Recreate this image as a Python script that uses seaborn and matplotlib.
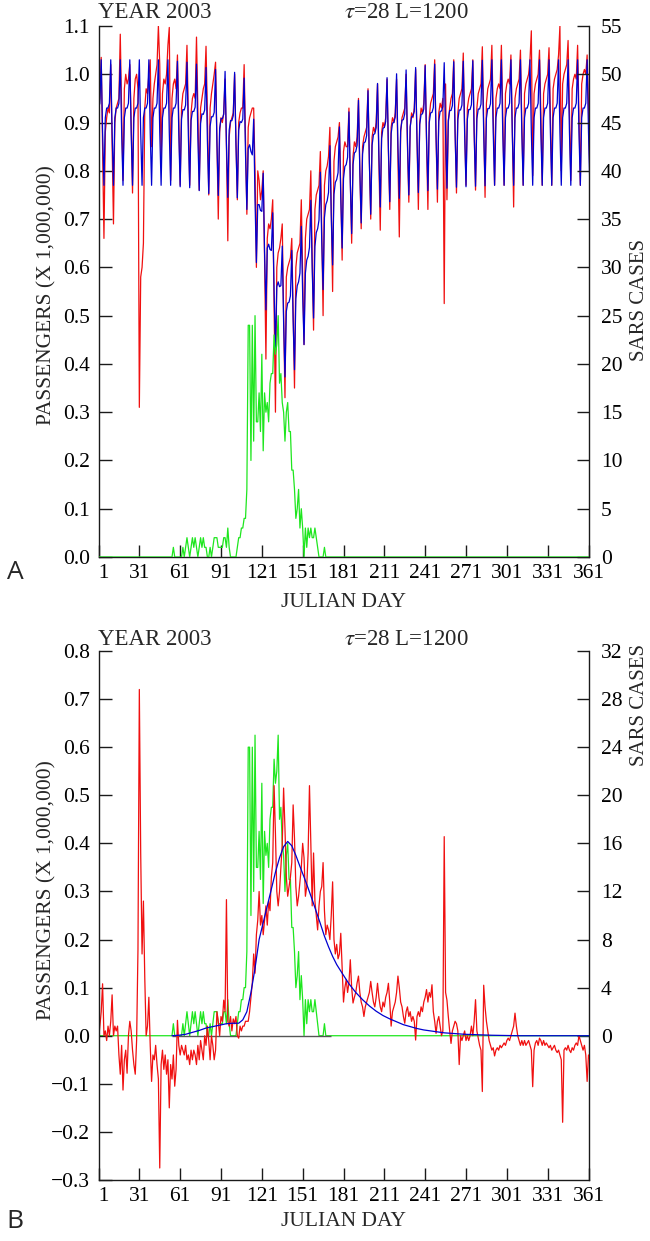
import matplotlib
matplotlib.use("Agg")
import matplotlib.pyplot as plt
import seaborn as sns
import pandas as pd

# ---------------- data ----------------
days = list(range(1, 366))
x_ticks = [1, 31, 61, 91, 121, 151, 181, 211, 241, 271, 301, 331, 361]
a_left_ticks = [0.0, 0.1, 0.2, 0.3, 0.4, 0.5, 0.6, 0.7, 0.8, 0.9, 1.0, 1.1]
a_right_ticks = [0, 5, 10, 15, 20, 25, 30, 35, 40, 45, 50, 55]
b_left_ticks = [-0.3, -0.2, -0.1, 0.0, 0.1, 0.2, 0.3, 0.4, 0.5, 0.6, 0.7, 0.8]
b_right_ticks = [0, 4, 8, 12, 16, 20, 24, 28, 32]

# Panel A, model passengers (blue), one row per week starting on the peak day
a_blue_weeks = [
    [0.93, 0.94],
    [1.03, 0.88, 0.77, 0.91, 0.93, 0.93, 0.94],
    [1.03, 0.88, 0.77, 0.91, 0.93, 0.93, 0.94],
    [1.03, 0.88, 0.77, 0.91, 0.93, 0.93, 0.94],
    [1.03, 0.88, 0.77, 0.91, 0.93, 0.93, 0.94],
    [1.03, 0.88, 0.77, 0.91, 0.93, 0.93, 0.94],
    [1.03, 0.88, 0.77, 0.91, 0.93, 0.93, 0.94],
    [1.03, 0.88, 0.77, 0.91, 0.93, 0.93, 0.94],
    [1.03, 0.88, 0.77, 0.91, 0.93, 0.93, 0.94],
    [1.027, 0.877, 0.767, 0.907, 0.927, 0.926, 0.936],
    [1.025, 0.875, 0.765, 0.904, 0.923, 0.923, 0.932],
    [1.021, 0.870, 0.759, 0.898, 0.918, 0.917, 0.926],
    [1.014, 0.863, 0.753, 0.892, 0.912, 0.912, 0.921],
    [1.010, 0.859, 0.749, 0.888, 0.908, 0.908, 0.917],
    [1.006, 0.855, 0.745, 0.884, 0.904, 0.904, 0.914],
    [1.004, 0.854, 0.744, 0.884, 0.902, 0.900, 0.907],
    [0.992, 0.836, 0.720, 0.847, 0.854, 0.840, 0.833],
    [0.907, 0.740, 0.610, 0.730, 0.730, 0.718, 0.716],
    [0.795, 0.633, 0.512, 0.640, 0.648, 0.637, 0.635],
    [0.713, 0.552, 0.430, 0.560, 0.570, 0.560, 0.562],
    [0.644, 0.487, 0.373, 0.509, 0.526, 0.528, 0.541],
    [0.635, 0.491, 0.388, 0.535, 0.562, 0.570, 0.588],
    [0.685, 0.543, 0.440, 0.588, 0.615, 0.623, 0.641],
    [0.739, 0.597, 0.495, 0.643, 0.672, 0.680, 0.698],
    [0.797, 0.656, 0.554, 0.703, 0.730, 0.738, 0.755],
    [0.852, 0.708, 0.605, 0.751, 0.776, 0.782, 0.796],
    [0.891, 0.745, 0.640, 0.784, 0.809, 0.813, 0.828],
    [0.922, 0.776, 0.670, 0.813, 0.837, 0.840, 0.853],
    [0.946, 0.799, 0.692, 0.835, 0.858, 0.860, 0.873],
    [0.966, 0.818, 0.710, 0.853, 0.875, 0.877, 0.889],
    [0.981, 0.833, 0.725, 0.867, 0.888, 0.890, 0.902],
    [0.993, 0.845, 0.736, 0.877, 0.899, 0.900, 0.911],
    [1.001, 0.852, 0.743, 0.884, 0.905, 0.906, 0.918],
    [1.009, 0.860, 0.750, 0.891, 0.912, 0.913, 0.923],
    [1.014, 0.865, 0.755, 0.896, 0.917, 0.918, 0.928],
    [1.018, 0.869, 0.759, 0.900, 0.920, 0.921, 0.931],
    [1.021, 0.872, 0.762, 0.903, 0.923, 0.924, 0.933],
    [1.024, 0.874, 0.764, 0.905, 0.925, 0.925, 0.935],
    [1.026, 0.876, 0.766, 0.906, 0.926, 0.926, 0.936],
    [1.027, 0.877, 0.767, 0.907, 0.927, 0.927, 0.937],
    [1.028, 0.878, 0.768, 0.908, 0.928, 0.928, 0.938],
    [1.029, 0.879, 0.769, 0.909, 0.929, 0.929, 0.939],
    [1.03, 0.88, 0.77, 0.91, 0.93, 0.93, 0.94],
    [1.03, 0.88, 0.77, 0.91, 0.93, 0.93, 0.94],
    [1.03, 0.88, 0.77, 0.91, 0.93, 0.93, 0.94],
    [1.03, 0.88, 0.77, 0.91, 0.93, 0.93, 0.94],
    [1.03, 0.88, 0.77, 0.91, 0.93, 0.93, 0.94],
    [1.03, 0.88, 0.77, 0.91, 0.93, 0.93, 0.94],
    [1.03, 0.88, 0.77, 0.91, 0.93, 0.93, 0.94],
    [1.03, 0.88, 0.77, 0.91, 0.93, 0.93, 0.94],
    [1.03, 0.88, 0.77, 0.91, 0.93, 0.93, 0.94],
    [1.03, 0.88, 0.77, 0.91, 0.93, 0.93, 0.94],
    [1.03, 0.88, 0.77, 0.91, 0.93, 0.93],
]

# Panel A, observed passengers (red), same week rows
a_red_weeks = [
    [0.93, 0.95],
    [1.035, 0.85, 0.66, 0.88, 0.91, 0.93, 0.92],
    [1.02, 0.86, 0.69, 0.90, 0.93, 0.94, 0.95],
    [1.083, 0.92, 0.78, 0.97, 1.00, 0.98, 0.99],
    [1.02, 0.90, 0.754, 0.95, 0.99, 1.00, 0.97],
    [0.31, 0.58, 0.60, 0.65, 0.93, 0.97, 0.96],
    [1.00, 1.03, 0.85, 0.95, 0.98, 1.00, 1.02],
    [1.10, 1.02, 0.82, 0.96, 0.99, 0.98, 1.00],
    [1.06, 1.097, 0.78, 0.95, 0.98, 0.99, 0.97],
    [1.04, 0.90, 0.77, 0.93, 0.96, 0.97, 0.98],
    [1.06, 0.92, 0.77, 0.92, 0.95, 0.96, 0.95],
    [1.077, 0.93, 0.76, 0.93, 0.95, 0.97, 0.98],
    [1.058, 0.92, 0.75, 0.93, 0.96, 0.98, 1.00],
    [1.025, 0.86, 0.70, 0.88, 0.91, 0.90, 0.92],
    [0.99, 0.85, 0.655, 0.87, 0.90, 0.91, 0.92],
    [1.00, 0.86, 0.74, 0.90, 0.92, 0.93, 0.93],
    [1.02, 0.86, 0.71, 0.89, 0.91, 0.92, 0.93],
    [0.93, 0.80, 0.60, 0.80, 0.78, 0.74, 0.76],
    [0.80, 0.62, 0.41, 0.66, 0.69, 0.68, 0.70],
    [0.74, 0.52, 0.30, 0.60, 0.63, 0.64, 0.66],
    [0.69, 0.50, 0.33, 0.58, 0.60, 0.61, 0.62],
    [0.66, 0.50, 0.35, 0.60, 0.63, 0.64, 0.65],
    [0.74, 0.58, 0.44, 0.66, 0.70, 0.71, 0.72],
    [0.80, 0.62, 0.47, 0.72, 0.75, 0.76, 0.77],
    [0.84, 0.68, 0.50, 0.77, 0.80, 0.81, 0.83],
    [0.89, 0.72, 0.55, 0.82, 0.85, 0.86, 0.87],
    [0.90, 0.76, 0.615, 0.84, 0.86, 0.85, 0.85],
    [0.93, 0.78, 0.65, 0.83, 0.86, 0.85, 0.87],
    [0.95, 0.80, 0.68, 0.85, 0.87, 0.88, 0.89],
    [0.97, 0.82, 0.70, 0.87, 0.89, 0.88, 0.90],
    [0.98, 0.82, 0.677, 0.88, 0.90, 0.89, 0.91],
    [0.99, 0.84, 0.72, 0.89, 0.91, 0.90, 0.92],
    [0.99, 0.83, 0.663, 0.88, 0.91, 0.92, 0.93],
    [1.00, 0.85, 0.735, 0.89, 0.92, 0.91, 0.93],
    [1.01, 0.86, 0.72, 0.90, 0.93, 0.92, 0.94],
    [1.02, 0.86, 0.72, 0.91, 0.94, 0.95, 0.96],
    [1.03, 0.87, 0.735, 0.92, 0.94, 0.93, 0.95],
    [0.525, 0.98, 0.74, 0.90, 0.93, 0.95, 0.96],
    [1.03, 0.88, 0.754, 0.92, 0.95, 0.96, 0.97],
    [1.044, 0.89, 0.77, 0.93, 0.95, 0.96, 0.97],
    [1.03, 0.88, 0.76, 0.93, 0.96, 0.97, 0.98],
    [1.057, 0.90, 0.745, 0.94, 0.97, 0.98, 0.99],
    [1.06, 0.92, 0.77, 0.95, 0.97, 0.98, 0.97],
    [1.06, 0.91, 0.77, 0.96, 0.98, 0.99, 0.98],
    [1.04, 0.89, 0.725, 0.95, 0.97, 0.98, 0.99],
    [1.05, 0.90, 0.77, 0.96, 0.98, 0.99, 1.00],
    [1.03, 1.09, 0.79, 0.96, 0.98, 0.99, 1.00],
    [1.05, 0.92, 0.77, 0.96, 0.98, 0.99, 1.00],
    [1.055, 0.91, 0.77, 0.97, 0.99, 1.00, 1.01],
    [1.04, 1.10, 0.80, 0.98, 1.00, 1.01, 1.02],
    [1.07, 0.93, 0.78, 0.97, 0.99, 1.00, 0.99],
    [1.06, 0.92, 0.77, 0.98, 1.00, 1.01, 1.00],
    [1.04, 0.93, 0.79, 1.00, 1.03, 0.98],
]

# SARS cases per day (green), days 56..168; zero elsewhere
cases_core = [
    1, 0, 0, 0, 0, 0, 0, 1, 0, 1,
    2, 1, 0, 1, 2, 1, 2, 1, 0, 1,
    2, 1, 2, 1, 1, 0, 0, 1, 0, 1,
    2, 2, 2, 1, 1, 1, 1, 2, 2, 1,
    3, 1, 0, 0, 0, 0, 0, 1, 2, 2,
    3, 3, 4, 4, 7, 24, 24, 10, 24, 12,
    25, 14, 14, 17, 13, 21, 11, 17, 15, 16,
    14, 18, 19, 19, 23, 21, 22, 25, 18, 19,
    16, 15, 12, 15, 16, 13, 13, 9, 9, 7,
    4, 5, 7, 3, 5, 3, 0, 3, 1, 3,
    2, 3, 2, 2, 3, 2, 1, 0, 0, 0,
    0, 1, 0,
]
cases = [0] * 55 + cases_core + [0] * 197

# Panel B, passenger loss (red), days 1..365
b_red = [
    -0.01, 0.02, 0.05, 0.108, 0.0, 0.01, -0.01, 0.02, 0.0, 0.03,
    0.085, 0.0, 0.02, 0.01, 0.02, -0.04, -0.08, -0.02, -0.113, -0.05,
    -0.03, -0.078, 0.0, 0.03, 0.01, -0.03, -0.06, -0.08, -0.01, 0.18,
    0.72, 0.38, 0.17, 0.28, 0.12, 0.0, 0.02, 0.08, -0.02, -0.095,
    -0.04, -0.05, -0.02, -0.06, -0.09, -0.275, -0.06, -0.03, -0.07, -0.04,
    -0.08, -0.05, -0.15, -0.06, -0.09, -0.04, -0.105, -0.07, 0.032, -0.02,
    -0.04, -0.02, -0.03, -0.04, -0.02, -0.05, -0.04, -0.06, -0.03, -0.05,
    -0.03, -0.04, -0.06, -0.02, -0.05, -0.01, -0.03, -0.05, 0.0, -0.02,
    0.02, -0.01, -0.05, 0.0, -0.02, -0.05, -0.03, 0.05, 0.03, 0.0,
    0.04, 0.03, 0.074, 0.05, 0.283, 0.03, 0.02, 0.04, 0.01, 0.035,
    0.025, 0.04, 0.0, -0.005, 0.02, 0.01, 0.02, 0.02, 0.03, 0.03,
    0.03, 0.05, 0.08, 0.11, 0.17, 0.13, 0.21, 0.24, 0.30, 0.23,
    0.25, 0.21, 0.24, 0.27, 0.23, 0.28, 0.26, 0.33, 0.36, 0.52,
    0.42, 0.30, 0.27, 0.30, 0.35, 0.40, 0.515, 0.43, 0.33, 0.29,
    0.31, 0.33, 0.36, 0.48, 0.41, 0.31, 0.27, 0.29, 0.32, 0.35,
    0.40, 0.37, 0.29, 0.31, 0.38, 0.52, 0.40, 0.27, 0.38, 0.28,
    0.25, 0.22, 0.27, 0.30, 0.31, 0.36, 0.26, 0.21, 0.23, 0.22,
    0.20, 0.25, 0.32, 0.20, 0.17, 0.19, 0.16, 0.17, 0.213, 0.14,
    0.07, 0.10, 0.117, 0.09, 0.11, 0.158, 0.10, 0.068, 0.08, 0.09,
    0.11, 0.124, 0.09, 0.07, 0.06, 0.04, 0.06, 0.07, 0.08, 0.09,
    0.113, 0.09, 0.07, 0.06, 0.08, 0.109, 0.08, 0.06, 0.05, 0.07,
    0.06, 0.08, 0.09, 0.109, 0.07, 0.02, 0.05, 0.06, 0.07, 0.09,
    0.124, 0.10, 0.07, 0.06, 0.04, 0.026, 0.05, 0.06, 0.04, 0.05,
    0.03, 0.04, 0.03, -0.009, 0.04, 0.05, 0.04, 0.06, 0.05, 0.07,
    0.08, 0.096, 0.07, 0.09, 0.08, 0.106, 0.05, 0.03, 0.005, 0.03,
    0.04, 0.02, 0.0, 0.01, 0.414, 0.09, 0.074, 0.04, 0.01, -0.016,
    0.01, 0.02, 0.03, 0.025, 0.01, -0.06, 0.0, -0.01, 0.0, 0.01,
    -0.01, 0.0, -0.01, 0.0, 0.02, 0.0, 0.03, 0.075, 0.01, -0.005,
    -0.02, -0.03, -0.116, 0.105, 0.06, 0.03, 0.01, -0.01, -0.02, -0.03,
    -0.025, -0.042, -0.03, -0.025, -0.03, -0.02, -0.025, -0.02, -0.015, -0.02,
    -0.01, -0.005, -0.01, 0.0, 0.01, 0.02, 0.047, 0.02, 0.0, -0.01,
    -0.02, -0.01, -0.02, -0.01, -0.02, -0.015, -0.01, -0.02, -0.03, -0.106,
    -0.03, -0.015, -0.01, -0.02, -0.005, -0.01, -0.02, -0.01, -0.02, -0.015,
    -0.02, -0.025, -0.02, -0.03, -0.025, -0.02, -0.03, -0.035, -0.03, -0.04,
    -0.05, -0.18, -0.03, -0.025, -0.03, -0.02, -0.03, -0.035, -0.025, -0.03,
    -0.02, -0.015, -0.02, 0.0, -0.01, -0.02, -0.03, -0.02, -0.04, -0.095,
    -0.04, -0.05, -0.06, -0.08, -0.10,
]

# Panel B, modelled SARS-induced loss (blue)
b_blue_days = [55, 60, 65, 70, 75, 80, 85, 90, 95, 100,
               104, 107, 110, 113, 116, 119, 122, 125, 128, 131,
               134, 137, 140, 143, 146, 149, 152, 155, 158, 161,
               164, 167, 170, 173, 176, 180, 185, 190, 195, 200,
               205, 210, 215, 220, 225, 230, 235, 240, 245, 250,
               255, 260, 270, 280, 290, 300, 310, 330, 365]
b_blue = [0.0, 0.001, 0.003, 0.007, 0.011, 0.016, 0.019, 0.022, 0.025, 0.026,
          0.026, 0.033, 0.05, 0.09, 0.14, 0.2, 0.235, 0.27, 0.305, 0.34,
          0.37, 0.393, 0.404, 0.395, 0.375, 0.352, 0.33, 0.307, 0.283, 0.258,
          0.233, 0.207, 0.185, 0.165, 0.148, 0.13, 0.108, 0.09, 0.075, 0.062,
          0.051, 0.042, 0.035, 0.029, 0.023, 0.019, 0.015, 0.012, 0.010, 0.008,
          0.006, 0.005, 0.003, 0.002, 0.001, 0.0005, 0.0, 0.0, 0.0]

zero_line_span = (55, 172)

# ---------------- assemble tables ----------------
a_blue = [v for wk in a_blue_weeks for v in wk]
a_red = [v for wk in a_red_weeks for v in wk]
df = pd.DataFrame({"day": days, "a_red": a_red, "a_blue": a_blue,
                   "b_red": b_red, "cases": cases})
df_bb = pd.DataFrame({"day": b_blue_days, "loss": b_blue})

# ---------------- style ----------------
sns.set_theme(style="white")
plt.rcParams["font.family"] = ["Liberation Serif", "DejaVu Serif"]
plt.rcParams["axes.unicode_minus"] = True
plt.rcParams["mathtext.fontset"] = "stix"

RED = "#f01010"
BLUE = "#0000d0"
GREEN = "#1ee61e"
SPINE = "#1a1a1a"
FS = 15.5
LW = 0.9

W, H = 650, 1241
fig = plt.figure(figsize=(W / 100, H / 100), dpi=100)


def rect(x0, x1, ytop, ybot):
    return [x0 / W, 1 - ybot / H, (x1 - x0) / W, (ybot - ytop) / H]


def fmt(v):
    return f"{v:.1f}".replace("-", "\u2212")


def style_axes(ax, tw):
    for a in (ax, tw):
        a.spines["top"].set_visible(False)
        for s in ("left", "right", "bottom"):
            a.spines[s].set_color(SPINE)
            a.spines[s].set_linewidth(1.0)
        a.set_xlabel("")
        a.set_ylabel("")
        a.grid(False)
    ax.spines["right"].set_visible(False)
    tw.spines["left"].set_visible(False)
    tw.spines["bottom"].set_visible(False)
    ax.tick_params(axis="both", direction="in", length=9, width=1.0,
                   color=SPINE, labelsize=FS, labelcolor="black")
    ax.tick_params(axis="y", pad=6, left=True, right=False)
    ax.tick_params(axis="x", pad=5, bottom=True, top=False)
    tw.tick_params(axis="y", direction="in", length=9, width=1.0,
                   color=SPINE, labelsize=FS, labelcolor="black", pad=9,
                   right=True, left=False)
    ax.set_xlim(1, 361)
    ax.set_xticks(x_ticks)
    xt = [str(d) for d in x_ticks]
    xt[0] = "  " + xt[0]
    ax.set_xticklabels(xt)


# ---------------- panel A ----------------
axA = fig.add_axes(rect(98.5, 588.5, 26, 557))
sns.lineplot(data=df, x="day", y="a_red", ax=axA, color=RED, lw=LW,
             estimator=None, sort=False)
sns.lineplot(data=df, x="day", y="a_blue", ax=axA, color=BLUE, lw=LW,
             estimator=None, sort=False)
axA.set_ylim(0, 1.1)
axA.set_yticks(a_left_ticks)
axA.set_yticklabels([fmt(v) for v in a_left_ticks])
twA = axA.twinx()
sns.lineplot(data=df, x="day", y="cases", ax=twA, color=GREEN, lw=LW,
             estimator=None, sort=False)
twA.set_ylim(0, 55)
twA.set_yticks(a_right_ticks)
twA.set_yticklabels([str(v) for v in a_right_ticks])
style_axes(axA, twA)

# ---------------- panel B ----------------
axB = fig.add_axes(rect(98.5, 588.5, 651, 1180))
twB = axB.twinx()
sns.lineplot(data=df, x="day", y="b_red", ax=axB, color=RED, lw=LW,
             estimator=None, sort=False)
sns.lineplot(data=df_bb, x="day", y="loss", ax=axB, color=BLUE, lw=LW,
             estimator=None, sort=False)
axB.set_ylim(-0.3, 0.8)
axB.set_yticks(b_left_ticks)
axB.set_yticklabels([fmt(v) for v in b_left_ticks])
sns.lineplot(data=df, x="day", y="cases", ax=twB, color=GREEN, lw=LW,
             estimator=None, sort=False)
twB.hlines(0, zero_line_span[0], zero_line_span[1], color="#555555", lw=1.0)
twB.set_ylim(-12, 32)
twB.set_yticks(b_right_ticks)
twB.set_yticklabels([str(v) for v in b_right_ticks])
style_axes(axB, twB)
twB.set_zorder(axB.get_zorder() - 1)
axB.patch.set_visible(False)
twB.patch.set_visible(True)
twB.patch.set_facecolor("white")

# ---------------- texts ----------------
def ftext(x, y, s, **kw):
    fig.text(x / W, 1 - y / H, s, **kw)

for ytop, ylab_c, sars_c, letter_y, xl_y, letter in (
        (13, 295, 300, 572, 603, "A"), (640, 890, 705, 1222, 1222, "B")):
    ftext(98, ytop, "YEAR 2003", fontsize=16.5, va="center", ha="left")
    ftext(344, ytop, "$\\tau$=28 L=1200", fontsize=16.5, va="center", ha="left")
    ftext(343.5, xl_y, "JULIAN DAY", fontsize=FS, va="center", ha="center")
    ftext(47, ylab_c, "PASSENGERS (X 1,000,000)", fontsize=FS, rotation=90,
          va="center", ha="center")
    ftext(640, sars_c, "SARS CASES", fontsize=15, rotation=90,
          va="center", ha="center")
    fig.text(15 / W, 1 - letter_y / H, letter, fontsize=19, va="center",
             ha="center", family=["Open Sans", "DejaVu Sans"])

fig.savefig("out.png", dpi=100)
